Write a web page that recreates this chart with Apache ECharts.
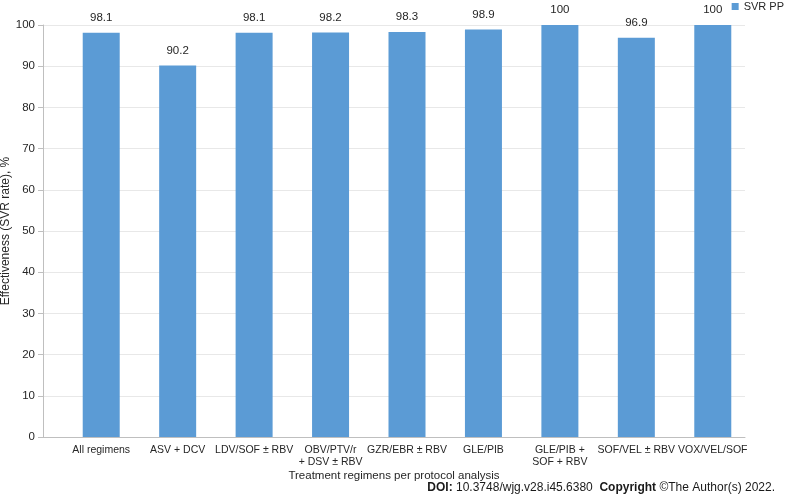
<!DOCTYPE html>
<html>
<head>
<meta charset="utf-8">
<script src="https://cdn.jsdelivr.net/npm/echarts@6/dist/echarts.min.js"></script>
<style>html,body{margin:0;padding:0;background:#fff}#c{width:788px;height:502px}</style>
</head>
<body>
<div id="c"></div>
<script>
const categories = ['All regimens', 'ASV + DCV', 'LDV/SOF ± RBV', 'OBV/PTV/r\n+ DSV ± RBV', 'GZR/EBR ± RBV', 'GLE/PIB', 'GLE/PIB +\nSOF + RBV', 'SOF/VEL ± RBV', 'VOX/VEL/SOF'];
const svrPP = [98.1, 90.2, 98.1, 98.2, 98.3, 98.9, 100, 96.9, 100];
const seriesName = 'SVR PP';
const yTitle = 'Effectiveness (SVR rate), %';
const xTitle = 'Treatment regimens per protocol analysis';

const FONT = '"Liberation Sans", Arial, sans-serif';
const TXT = '#262626';
const chart = echarts.init(document.getElementById('c'), null, {renderer: 'canvas'});
chart.setOption({
  animation: false,
  textStyle: {fontFamily: FONT},
  title: {
    right: 8, bottom: 3,
    text: '{b|DOI:} 10.3748/wjg.v28.i45.6380  {b|Copyright} ©The Author(s) 2022.',
    textStyle: {
      fontFamily: FONT, fontSize: 12, fontWeight: 'normal', color: '#1a1a1a',
      rich: {b: {fontFamily: FONT, fontSize: 12, fontWeight: 'bold', color: '#1a1a1a'}}
    }
  },
  legend: {
    data: [seriesName], top: 1, right: 4, padding: 0, icon: 'rect', itemWidth: 7, itemHeight: 7, itemGap: 5,
    textStyle: {fontFamily: FONT, fontSize: 11, color: TXT}
  },
  grid: [
    {left: 43, right: 43, top: 25, bottom: 65, containLabel: false, outerBoundsMode: 'none'},
    {left: 63, right: 37, top: 25, bottom: 65, containLabel: false, outerBoundsMode: 'none'}
  ],
  xAxis: [
    {
      gridIndex: 0, type: 'value', min: 0, max: 1,
      axisLine: {show: true, onZero: false, lineStyle: {color: '#bfbfbf', width: 1}},
      axisTick: {show: false}, axisLabel: {show: false}, splitLine: {show: false},
      name: xTitle, nameLocation: 'middle', nameGap: 33, nameMoveOverlap: false,
      nameTextStyle: {fontFamily: FONT, fontSize: 11.5, color: TXT}
    },
    {
      gridIndex: 1, type: 'category', data: categories,
      axisLine: {show: false}, axisTick: {show: false},
      axisLabel: {interval: 0, margin: 7, fontFamily: FONT, fontSize: 10.5, color: TXT, lineHeight: 12}
    }
  ],
  yAxis: [
    {
      gridIndex: 0, type: 'value', min: 0, max: 100, interval: 10,
      axisLine: {show: true, lineStyle: {color: '#bfbfbf'}},
      axisTick: {show: true, length: 5, lineStyle: {color: '#bfbfbf'}},
      axisLabel: {margin: 8, fontFamily: FONT, fontSize: 11.5, color: TXT},
      splitLine: {show: true, lineStyle: {color: '#e8e8e8'}},
      name: yTitle, nameLocation: 'middle', nameGap: 31, nameRotate: 90, nameMoveOverlap: false,
      nameTextStyle: {fontFamily: FONT, fontSize: 12, color: TXT}
    },
    {
      gridIndex: 1, type: 'value', min: 0, max: 100, show: false, splitLine: {show: false}
    }
  ],
  series: [{
    name: seriesName, type: 'bar', xAxisIndex: 1, yAxisIndex: 1,
    data: svrPP, barWidth: 37,
    itemStyle: {color: '#5b9bd5'},
    label: {show: true, position: 'top', distance: 9, fontFamily: FONT, fontSize: 11.5, color: TXT}
  }]
});
</script>
</body>
</html>
